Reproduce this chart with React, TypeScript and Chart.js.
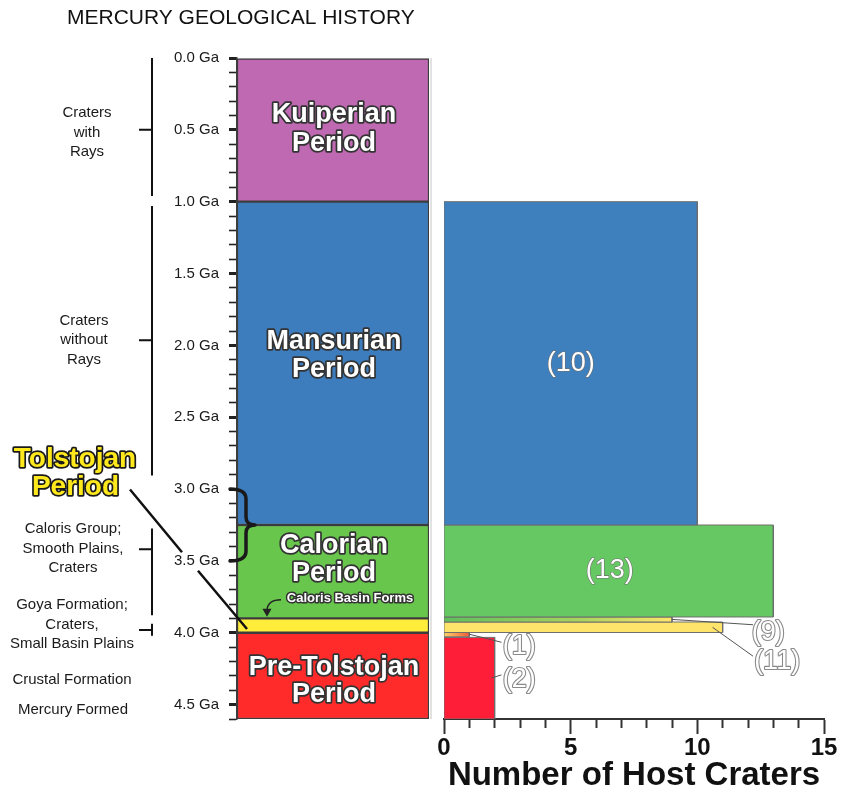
import React, { useEffect, useRef } from 'react';
import { Chart, registerables } from 'chart.js';

Chart.register(...registerables);

const FONT = "'Liberation Sans', Arial, Helvetica, sans-serif";

// ---------- data ----------
const CHART_TITLE = 'MERCURY GEOLOGICAL HISTORY';
const AXIS_TITLE = 'Number of Host Craters';

const TIME_MIN = 0;
const TIME_MAX = 4.6;
const TIME_STEP = 0.1;

const PERIOD_NAMES = ['Kuiperian', 'Mansurian', 'Calorian', 'Tolstojan', 'Pre-Tolstojan'];
const PERIOD_START = [0.0, 1.0, 3.25, 3.9, 4.0];
const PERIOD_END = [1.0, 3.25, 3.9, 4.0, 4.6];
const PERIOD_COLORS = ['#BE69B1', '#3D7DBE', '#68C64C', '#FFEC3B', '#FF2B2B'];

const HOST_COUNTS = [10, 13, 9, 11, 1, 2];
const HOST_FROM = [1.0, 3.25, 3.89, 3.925, 3.998, 4.032];
const HOST_TO = [3.25, 3.89, 3.925, 3.998, 4.028, 4.6];
const HOST_LABELS = ['(10)', '(13)', '(9)', '(11)', '(1)', '(2)'];
const HOST_COLORS = ['#3E7FBD', '#66C862', 'grad-green-yellow', '#FFE46C', 'grad-orange', '#FF1E38'];

const COUNT_MIN = 0;
const COUNT_MAX = 15;
const COUNT_STEP = 1;
const COUNT_MAJOR = 5;

// ---------- helpers ----------
const isHalf = (v: number) => Math.abs(v * 2 - Math.round(v * 2)) < 1e-6;

function rect(w: number, t0: number, t1: number) {
  return [
    { x: 0, y: t0 },
    { x: w, y: t0 },
    { x: w, y: t1 },
    { x: 0, y: t1 },
    { x: 0, y: t0 },
  ];
}

function outlinedText(ctx: CanvasRenderingContext2D, text: string, x: number, y: number, fill: string, stroke: string, lw: number) {
  ctx.lineJoin = 'round';
  ctx.miterLimit = 2;
  if (lw > 0) {
    ctx.lineWidth = lw;
    ctx.strokeStyle = stroke;
    ctx.strokeText(text, x, y);
  }
  ctx.fillStyle = fill;
  ctx.fillText(text, x, y);
}

// ---------- left panel annotations ----------
const leftAnnotations = {
  id: 'leftAnnotations',
  afterDraw(chart: any) {
    const { ctx, chartArea, scales } = chart;
    const y = scales.y;
    const Y = (v: number) => y.getPixelForValue(v);
    const cx = (chartArea.left + chartArea.right) / 2;
    ctx.save();

    // title
    ctx.font = `21px ${FONT}`;
    ctx.textAlign = 'left';
    ctx.textBaseline = 'middle';
    ctx.fillStyle = '#111';
    ctx.fillText(CHART_TITLE, 67, 18);

    // period names in boxes
    const nameLines: Record<string, number[]> = {
      Kuiperian: [0.394, 0.592],
      Mansurian: [1.972, 2.167],
      Calorian: [3.394, 3.589],
      'Pre-Tolstojan': [4.242, 4.432],
    };
    ctx.font = `bold 27px ${FONT}`;
    ctx.textAlign = 'center';
    PERIOD_NAMES.forEach((name) => {
      const ys = nameLines[name];
      if (!ys) return;
      outlinedText(ctx, name, cx + 1, Y(ys[0]), '#ffffff', '#333333', 3.5);
      outlinedText(ctx, 'Period', cx + 1, Y(ys[1]), '#ffffff', '#333333', 3.5);
    });

    // Caloris Basin Forms
    ctx.font = `bold 13px ${FONT}`;
    const yc = Y(3.763);
    outlinedText(ctx, 'Caloris Basin Forms', 350, yc, '#ffffff', '#333333', 3);
    ctx.beginPath();
    ctx.moveTo(281, yc + 1);
    ctx.quadraticCurveTo(268, yc + 1, 267, yc + 11);
    ctx.lineWidth = 1.4;
    ctx.strokeStyle = '#222';
    ctx.stroke();
    ctx.beginPath();
    ctx.moveTo(267, yc + 18);
    ctx.lineTo(262.5, yc + 10);
    ctx.lineTo(271.5, yc + 10);
    ctx.closePath();
    ctx.fillStyle = '#222';
    ctx.fill();

    // curly brace 3.0 - 3.5 Ga
    const bt = Y(3.0), bb = Y(3.5), bm = Y(3.25);
    const bx0 = 230, bx1 = 246, bxt = 255;
    ctx.beginPath();
    ctx.moveTo(bx0, bt);
    ctx.quadraticCurveTo(bx1, bt, bx1, bt + 10);
    ctx.lineTo(bx1, bm - 8);
    ctx.quadraticCurveTo(bx1, bm, bxt, bm);
    ctx.quadraticCurveTo(bx1, bm, bx1, bm + 8);
    ctx.lineTo(bx1, bb - 10);
    ctx.quadraticCurveTo(bx1, bb, bx0, bb);
    ctx.lineWidth = 3.5;
    ctx.lineJoin = 'round';
    ctx.lineCap = 'round';
    ctx.strokeStyle = '#1a1a1a';
    ctx.stroke();

    // brackets on far left
    const brackets = [
      { from: 0.0, to: 0.96, tick: 0.5 },
      { from: 1.03, to: 2.906, tick: 1.965 },
      { from: 3.275, to: 3.878, tick: 3.418 },
      { from: 3.937, to: 4.02, tick: 3.98 },
    ];
    ctx.strokeStyle = '#111';
    ctx.lineWidth = 2;
    ctx.lineCap = 'butt';
    brackets.forEach((b) => {
      ctx.beginPath();
      ctx.moveTo(152, Y(b.from));
      ctx.lineTo(152, Y(b.to));
      ctx.moveTo(139, Y(b.tick));
      ctx.lineTo(152, Y(b.tick));
      ctx.stroke();
    });

    // bracket labels
    const blocks = [
      { x: 87, c: 0.519, lines: ['Craters', 'with', 'Rays'] },
      { x: 84, c: 1.963, lines: ['Craters', 'without', 'Rays'] },
      { x: 73, c: 3.415, lines: ['Caloris Group;', 'Smooth Plains,', 'Craters'] },
      { x: 72, c: 3.942, lines: ['Goya Formation;', 'Craters,', 'Small Basin Plains'] },
      { x: 72, c: 4.328, lines: ['Crustal Formation'] },
      { x: 73, c: 4.537, lines: ['Mercury Formed'] },
    ];
    ctx.font = `15px ${FONT}`;
    ctx.fillStyle = '#1a1a1a';
    ctx.textAlign = 'center';
    blocks.forEach((b) => {
      const lh = 19.5;
      const c = Y(b.c);
      const start = c - ((b.lines.length - 1) * lh) / 2;
      b.lines.forEach((t, i) => ctx.fillText(t, b.x, start + i * lh));
    });

    // Tolstojan label and pointer line
    ctx.beginPath();
    ctx.moveTo(130, Y(3.003));
    ctx.lineTo(182, Y(3.44));
    ctx.moveTo(198, Y(3.568));
    ctx.lineTo(247, Y(3.974));
    ctx.lineWidth = 2.5;
    ctx.strokeStyle = '#111';
    ctx.stroke();

    ctx.font = `bold 28px ${FONT}`;
    outlinedText(ctx, 'Tolstojan', 75, 459, '#FFE81C', '#1a1a1a', 3.5);
    outlinedText(ctx, 'Period', 75.5, 487, '#FFE81C', '#1a1a1a', 3.5);

    ctx.restore();
  },
};

// ---------- right panel labels ----------
const hostAnnotations = {
  id: 'hostAnnotations',
  beforeDatasetsDraw(chart: any) {
    // faint divider line between the two panels
    const { ctx, chartArea } = chart;
    ctx.save();
    ctx.strokeStyle = '#d9d9d9';
    ctx.lineWidth = 1.5;
    ctx.beginPath();
    ctx.moveTo(431, chartArea.top);
    ctx.lineTo(431, chartArea.bottom);
    ctx.stroke();
    ctx.restore();
  },
  afterDatasetsDraw(chart: any) {
    const { ctx, scales } = chart;
    const X = (v: number) => scales.x.getPixelForValue(v);
    const Y = (v: number) => scales.y.getPixelForValue(v);
    ctx.save();
    ctx.font = `27px ${FONT}`;
    ctx.textAlign = 'center';
    ctx.textBaseline = 'middle';

    // labels inside the big bars
    [0, 1].forEach((i) => {
      const px = X(HOST_COUNTS[i] / 2) + (i === 1 ? 1 : 0);
      const py = Y((HOST_FROM[i] + HOST_TO[i]) / 2);
      outlinedText(ctx, HOST_LABELS[i], px, py, '#ffffff', '#6f6f6f', 1.2);
    });

    // leader lines and outside labels
    const callouts = [
      { i: 2, from: [9.0, 3.907], to: [12.2, 3.944], at: [12.8, 3.995] },
      { i: 3, from: [10.6, 3.962], to: [12.2, 4.163], at: [13.15, 4.2] },
      { i: 4, from: [1.0, 4.01], to: [2.27, 4.066], at: [2.97, 4.095] },
      { i: 5, from: [1.87, 4.315], to: [2.27, 4.293], at: [2.97, 4.327] },
    ];
    ctx.strokeStyle = '#555';
    ctx.lineWidth = 1;
    callouts.forEach((c) => {
      ctx.beginPath();
      ctx.moveTo(X(c.from[0]), Y(c.from[1]));
      ctx.lineTo(X(c.to[0]), Y(c.to[1]));
      ctx.stroke();
    });
    callouts.forEach((c) => {
      outlinedText(ctx, HOST_LABELS[c.i], X(c.at[0]), Y(c.at[1]), '#ffffff', '#8a8a8a', 2.2);
    });
    ctx.restore();
  },
};

function hostFill(kind: string) {
  return (context: any) => {
    const chart = context.chart;
    if (!chart.chartArea || !chart.scales || !chart.scales.x) return '#B9D85E';
    const xs = chart.scales.x;
    if (kind === 'grad-green-yellow') {
      const g = chart.ctx.createLinearGradient(xs.getPixelForValue(0), 0, xs.getPixelForValue(9), 0);
      g.addColorStop(0, '#5EC05A');
      g.addColorStop(0.6, '#A9D45E');
      g.addColorStop(1, '#FFE66A');
      return g;
    }
    if (kind === 'grad-orange') {
      const g = chart.ctx.createLinearGradient(xs.getPixelForValue(0), 0, xs.getPixelForValue(1), 0);
      g.addColorStop(0, '#FFD56A');
      g.addColorStop(1, '#F25A35');
      return g;
    }
    return kind;
  };
}

export default function App() {
  const leftRef = useRef<HTMLCanvasElement | null>(null);
  const rightRef = useRef<HTMLCanvasElement | null>(null);

  useEffect(() => {
    document.body.style.margin = '0';
    if (!leftRef.current || !rightRef.current) return;

    const left = new Chart(leftRef.current, {
      type: 'bar',
      data: {
        labels: ['Periods'],
        datasets: PERIOD_NAMES.map((name, i) => ({
          label: name,
          data: [[PERIOD_START[i], PERIOD_END[i]]] as any,
          backgroundColor: PERIOD_COLORS[i],
          borderColor: '#3c3c3c',
          borderWidth: 1.5,
          borderSkipped: false,
          grouped: false,
          barPercentage: 1,
          categoryPercentage: 1,
        })),
      },
      options: {
        responsive: false,
        animation: false,
        events: [],
        layout: { padding: { left: 167, right: 415, top: 58, bottom: 77 } },
        plugins: { legend: { display: false }, tooltip: { enabled: false }, title: { display: false } },
        scales: {
          x: { type: 'category', display: false },
          y: {
            type: 'linear',
            min: TIME_MIN,
            max: TIME_MAX,
            reverse: true,
            position: 'left',
            afterFit: (s: any) => { s.width = 70; },
            border: { display: true, color: '#3c3c3c', width: 1.5 },
            grid: {
              drawOnChartArea: false,
              tickLength: 8,
              tickColor: '#222',
              tickWidth: (c: any) => (c.tick && isHalf(c.tick.value) ? 3 : 1.6),
            },
            ticks: {
              stepSize: TIME_STEP,
              autoSkip: false,
              padding: 10,
              color: '#1a1a1a',
              font: { family: FONT, size: 15 },
              callback: (v: any) => (isHalf(Number(v)) ? `${Number(v).toFixed(1)} Ga` : ''),
            },
          },
        },
      } as any,
      plugins: [leftAnnotations],
    });

    const right = new Chart(rightRef.current, {
      type: 'line',
      data: {
        datasets: HOST_COUNTS.map((n, i) => ({
          label: HOST_LABELS[i],
          data: rect(n, HOST_FROM[i], HOST_TO[i]),
          fill: 'shape',
          backgroundColor: HOST_COLORS[i].startsWith('grad') ? hostFill(HOST_COLORS[i]) : HOST_COLORS[i],
          borderColor: '#6e6e6e',
          borderWidth: 1,
          pointRadius: 0,
          tension: 0,
        })),
      },
      options: {
        responsive: false,
        animation: false,
        events: [],
        layout: { padding: { left: 444, right: 20, top: 58, bottom: 0 } },
        plugins: { legend: { display: false }, tooltip: { enabled: false } },
        scales: {
          x: {
            type: 'linear',
            min: COUNT_MIN,
            max: COUNT_MAX,
            position: 'bottom',
            afterFit: (s: any) => { s.height = 77; },
            border: { display: true, color: '#333', width: 2 },
            grid: {
              drawOnChartArea: false,
              tickLength: 15,
              tickColor: '#333',
              tickWidth: 2,
              tickBorderDash: (c: any) => (c.tick && c.tick.value % COUNT_MAJOR !== 0 ? [8, 40] : []),
            },
            ticks: {
              stepSize: COUNT_STEP,
              autoSkip: false,
              maxRotation: 0,
              padding: 0,
              color: '#111',
              font: { family: FONT, size: 24, weight: 'bold' },
              callback: (v: any) => (Number(v) % COUNT_MAJOR === 0 ? String(v) : ''),
            },
            title: {
              display: true,
              text: AXIS_TITLE,
              color: '#111',
              font: { family: FONT, size: 33, weight: 'bold' },
              padding: { top: 0, bottom: 0 },
            },
          },
          y: {
            type: 'linear',
            min: TIME_MIN,
            max: TIME_MAX,
            reverse: true,
            display: false,
          },
        },
      } as any,
      plugins: [hostAnnotations],
    });
    right.update();

    return () => {
      left.destroy();
      right.destroy();
    };
  }, []);

  return (
    <div style={{ position: 'absolute', left: 0, top: 0, width: 844, height: 796, background: '#fff' }}>
      <canvas ref={leftRef} width={844} height={796} style={{ position: 'absolute', left: 0, top: 0 }} />
      <canvas ref={rightRef} width={844} height={796} style={{ position: 'absolute', left: 0, top: 0 }} />
    </div>
  );
}
